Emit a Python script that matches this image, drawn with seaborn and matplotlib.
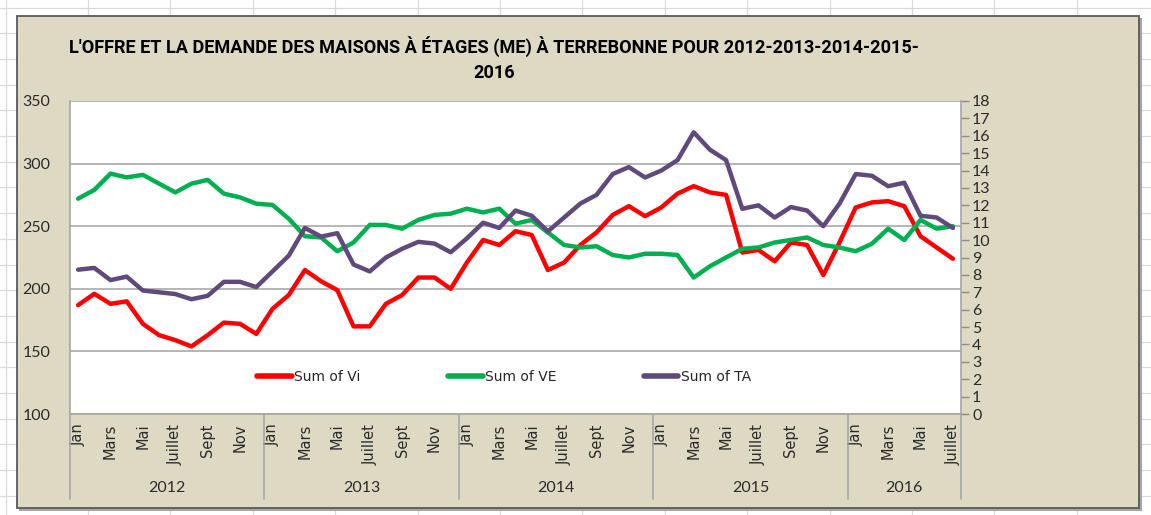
import numpy as np
import pandas as pd
import matplotlib
matplotlib.use("Agg")
import matplotlib.pyplot as plt
from matplotlib.lines import Line2D
from matplotlib.patches import Rectangle
import seaborn as sns

# ---------------- data ----------------
years = [2012, 2013, 2014, 2015, 2016]
months_per_year = [12, 12, 12, 12, 7]
month_labels = ["Jan", "Mars", "Mai", "Juillet", "Sept", "Nov"]

vi = [187, 196, 188, 190, 172, 163, 159, 154, 163, 173, 172, 164,
      184, 195, 215, 206, 199, 170, 170, 188, 195, 209, 209, 200,
      221, 239, 235, 246, 243, 215, 221, 235, 245, 259, 266, 258,
      265, 276, 282, 277, 275, 229, 231, 222, 237, 235, 211, 237,
      265, 269, 270, 266, 242, 233, 224]
ve = [272, 279, 292, 289, 291, 284, 277, 284, 287, 276, 273, 268,
      267, 256, 242, 241, 230, 237, 251, 251, 248, 255, 259, 260,
      264, 261, 264, 252, 255, 245, 235, 233, 234, 227, 225, 228,
      228, 227, 209, 218, 225, 232, 233, 237, 239, 241, 235, 233,
      230, 236, 248, 239, 255, 248, 250]
ta = [8.3, 8.4, 7.7, 7.9, 7.1, 7.0, 6.9, 6.6, 6.8, 7.6, 7.6, 7.3,
      8.2, 9.1, 10.7, 10.2, 10.4, 8.6, 8.2, 9.0, 9.5, 9.9, 9.8, 9.3,
      10.1, 11.0, 10.7, 11.7, 11.4, 10.5, 11.3, 12.1, 12.6, 13.8, 14.2, 13.6,
      14.0, 14.6, 16.2, 15.2, 14.6, 11.8, 12.0, 11.3, 11.9, 11.7, 10.8, 12.1,
      13.8, 13.7, 13.1, 13.3, 11.4, 11.3, 10.7]

title = ("L'OFFRE ET LA DEMANDE DES MAISONS À ÉTAGES (ME) À TERREBONNE POUR 2012-2013-2014-2015-\n"
         "2016")

# ---------------- styling ----------------
sns.set_style("white")
plt.rcParams["font.family"] = ["DejaVu Sans"]

W, H = 1151, 515
def fx(p): return p / W
def fy(p): return 1 - p / H

fig = plt.figure(figsize=(W / 100, H / 100), dpi=100)
fig.patch.set_facecolor("white")

# excel sheet cell grid
for y in np.arange(7.5, H, 25.7):
    fig.add_artist(Line2D([0, 1], [fy(y), fy(y)], color="#D9D9D9", lw=0.9, zorder=0))
for x in [6] + list(np.arange(88, W, 82.4)):
    fig.add_artist(Line2D([fx(x), fx(x)], [0, 1], color="#D9D9D9", lw=0.9, zorder=0))

# chart area with shadow
fig.add_artist(Rectangle((fx(19), fy(510.5)), fx(1141.5) - fx(19), fy(18) - fy(510.5),
                         transform=fig.transFigure, fc="#A6A6A6", ec="none", zorder=1))
fig.add_artist(Rectangle((fx(17), fy(508)), fx(1139) - fx(17), fy(16) - fy(508),
                         transform=fig.transFigure, fc="#DDD9C3", ec="#595959", lw=1.3, zorder=2))

ax = fig.add_axes([fx(70), fy(414), fx(961) - fx(70), fy(101) - fy(414)])
ax.set_zorder(3)
ax.set_facecolor("white")

n = len(vi)
idx = np.arange(n)
df = pd.DataFrame({"t": idx, "Vi": vi, "VE": ve, "TA": ta})

sns.lineplot(data=df, x="t", y="Vi", ax=ax, color="#FF0000", linewidth=3.2, legend=False)
sns.lineplot(data=df, x="t", y="VE", ax=ax, color="#00B050", linewidth=3.2, legend=False)
ax2 = ax.twinx()
sns.lineplot(data=df, x="t", y="TA", ax=ax2, color="#604A7B", linewidth=3.2, legend=False)

for l in ax.lines + ax2.lines:
    l.set_solid_joinstyle("round")
    l.set_solid_capstyle("round")

ax.set_xlim(-0.5, n - 0.5)
ax.set_ylim(100, 350)
ax2.set_ylim(0, 18)
ax.set_xlabel("")
ax.set_ylabel("")
ax2.set_ylabel("")

ax.set_yticks(np.arange(100, 351, 50))
ax.yaxis.grid(True, color="#B5B5B5", lw=1.4)
ax.xaxis.grid(False)
ax.set_axisbelow(True)
ax.tick_params(axis="y", length=0, pad=14, labelsize=11.5, labelcolor="#2b2b2b")
for t in ax.get_yticklabels():
    t.set_fontfamily(["Lato", "DejaVu Sans"])

ax2.set_yticks(np.arange(0, 19, 1))
ax2.tick_params(axis="y", length=6, width=1, color="#8C8C8C", pad=2, labelsize=11.5,
                labelcolor="#2b2b2b")
for t in ax2.get_yticklabels():
    t.set_fontfamily(["Lato", "DejaVu Sans"])

# month ticks
tick_pos, tick_lab = [], []
start = 0
for ny in months_per_year:
    for m in range(0, ny, 2):
        tick_pos.append(start + m)
        tick_lab.append(month_labels[m // 2])
    start += ny
ax.set_xticks(tick_pos)
ax.set_xticklabels(tick_lab, rotation=90, fontsize=10.5, color="#2b2b2b")
ax.tick_params(axis="x", length=0, pad=7)

for s in ["top", "right"]:
    ax.spines[s].set_visible(False)
ax.spines["left"].set_color("#A6A6A6")
ax.spines["bottom"].set_color("#A6A6A6")
ax.spines["left"].set_linewidth(1.2)
ax.spines["bottom"].set_linewidth(1.2)
for s in ["top", "left", "bottom"]:
    ax2.spines[s].set_visible(False)
ax2.spines["right"].set_color("#A6A6A6")
ax2.spines["right"].set_linewidth(1.2)

# year group separators and labels
trans = ax.get_xaxis_transform()
bounds = np.concatenate([[0], np.cumsum(months_per_year)]) - 0.5
sep_bottom = (414 - 499) / (414 - 101)
for b in bounds:
    ax.add_line(Line2D([b, b], [0, sep_bottom], transform=trans, color="#A6A6A6",
                       lw=1.2, clip_on=False))
year_y = (414 - 488) / (414 - 101)
for i, yr in enumerate(years):
    c = (bounds[i] + bounds[i + 1]) / 2
    ax.text(c, year_y, str(yr), transform=trans, ha="center", va="center",
            fontsize=11.5, color="#2b2b2b", family=["Lato", "DejaVu Sans"])

# legend
handles = [Line2D([], [], color="#FF0000", lw=4),
           Line2D([], [], color="#00B050", lw=4),
           Line2D([], [], color="#604A7B", lw=4)]
ax2.legend(handles, ["Sum of Vi", "Sum of VE", "Sum of TA"], loc="center",
           bbox_to_anchor=(0.487, 0.118), ncol=3, frameon=False,
           handlelength=2.5, handletextpad=0.15, columnspacing=6.3,
           prop={"family": "DejaVu Sans", "size": 10})

# title, auto-fit width
tt = fig.text(fx(494), fy(59), title, ha="center", va="center", fontsize=14,
              fontweight="bold", family=["Roboto", "DejaVu Sans"],
              linespacing=1.45, color="#000000", zorder=5)
fig.canvas.draw()
r = fig.canvas.get_renderer()
w = tt.get_window_extent(r).width
tt.set_fontsize(14 * 856 / w)

fig.savefig("out.png", dpi=100, facecolor="white")
